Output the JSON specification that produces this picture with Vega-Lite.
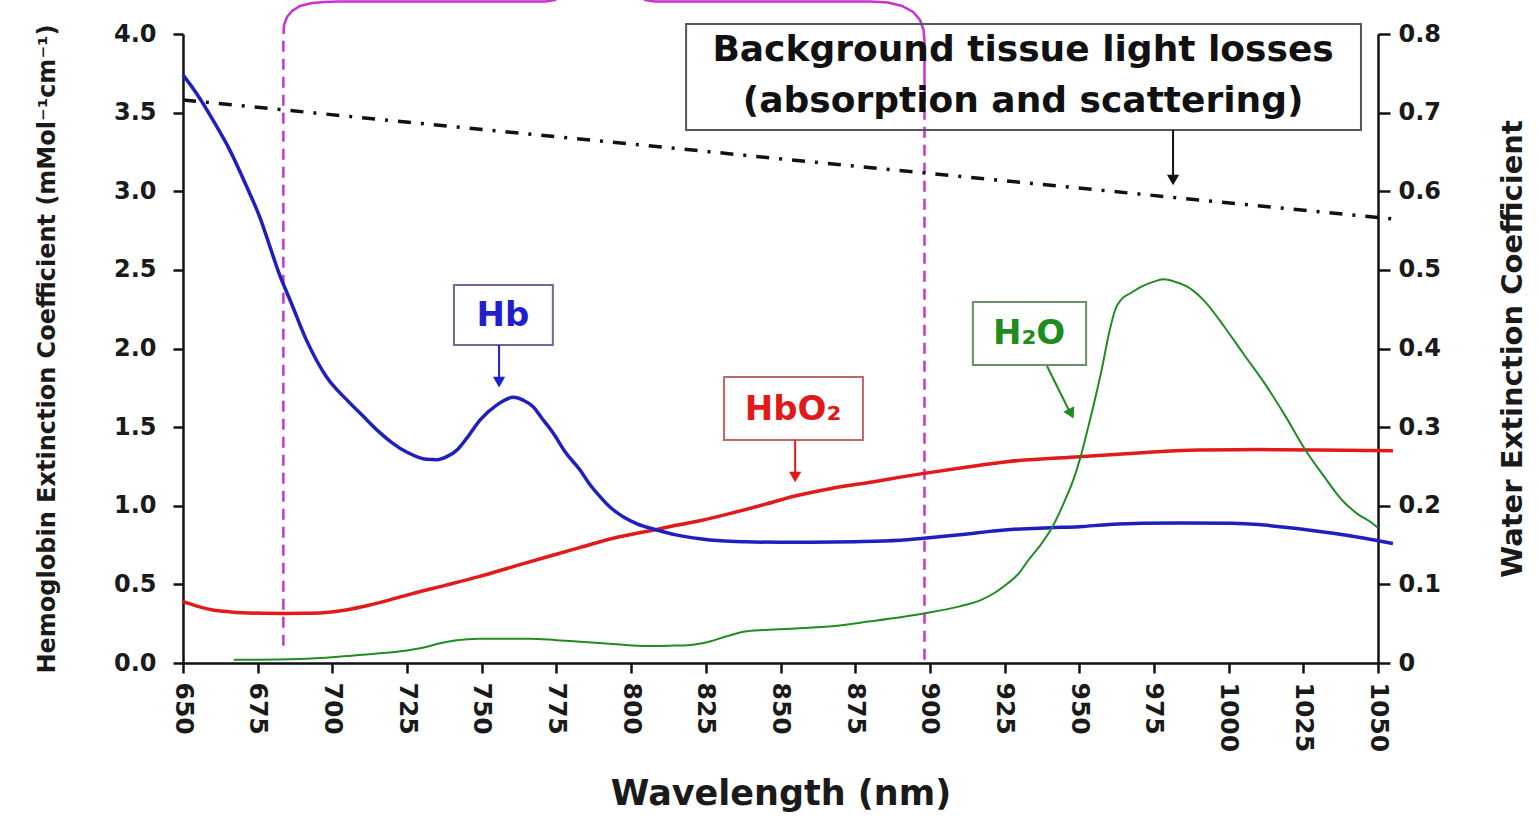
{
  "$schema": "https://vega.github.io/schema/vega-lite/v6.json",
  "width": 1195,
  "height": 629,
  "autosize": {"type": "none"},
  "padding": {"left": 183, "top": 34, "right": 161, "bottom": 164},
  "background": "white",
  "config": {"view": {"stroke": null}, "font": "DejaVu Sans"},
  "datasets": {
    "hb": [
      {"nm":650,"v":3.74},{"nm":654.6,"v":3.62},{"nm":660.1,"v":3.45},{"nm":665.7,"v":3.26},{"nm":671.3,"v":3.03},{"nm":675.8,"v":2.83},{"nm":678,"v":2.71},{"nm":682.5,"v":2.46},{"nm":685.8,"v":2.31},{"nm":691.4,"v":2.05},{"nm":698,"v":1.82},{"nm":705,"v":1.67},{"nm":710,"v":1.575},{"nm":715.9,"v":1.465},{"nm":720,"v":1.4},{"nm":725,"v":1.34},{"nm":731.6,"v":1.295},{"nm":735,"v":1.293},{"nm":738.3,"v":1.312},{"nm":742,"v":1.36},{"nm":745,"v":1.43},{"nm":749.4,"v":1.545},{"nm":755,"v":1.64},{"nm":760.6,"v":1.69},{"nm":764,"v":1.67},{"nm":767.2,"v":1.63},{"nm":770,"v":1.56},{"nm":773.9,"v":1.463},{"nm":778,"v":1.34},{"nm":782.9,"v":1.227},{"nm":786,"v":1.14},{"nm":789.6,"v":1.058},{"nm":793,"v":0.99},{"nm":797.3,"v":0.93},{"nm":802,"v":0.885},{"nm":808.6,"v":0.846},{"nm":815,"v":0.815},{"nm":823,"v":0.79},{"nm":830,"v":0.777},{"nm":838,"v":0.771},{"nm":850,"v":0.768},{"nm":860,"v":0.768},{"nm":875,"v":0.771},{"nm":890,"v":0.78},{"nm":898,"v":0.793},{"nm":910,"v":0.815},{"nm":925,"v":0.846},{"nm":940,"v":0.86},{"nm":950,"v":0.867},{"nm":960,"v":0.88},{"nm":971,"v":0.888},{"nm":985,"v":0.89},{"nm":1001,"v":0.888},{"nm":1010,"v":0.88},{"nm":1017,"v":0.867},{"nm":1026,"v":0.848},{"nm":1035,"v":0.825},{"nm":1045,"v":0.795},{"nm":1055,"v":0.76}
    ],
    "hbo2": [
      {"nm":650,"v":0.39},{"nm":655,"v":0.36},{"nm":660,"v":0.337},{"nm":666,"v":0.325},{"nm":677,"v":0.316},{"nm":684,"v":0.315},{"nm":690,"v":0.316},{"nm":697,"v":0.32},{"nm":704,"v":0.335},{"nm":710,"v":0.358},{"nm":718,"v":0.395},{"nm":727,"v":0.443},{"nm":738,"v":0.495},{"nm":749,"v":0.549},{"nm":760,"v":0.61},{"nm":772,"v":0.676},{"nm":783,"v":0.735},{"nm":794,"v":0.793},{"nm":808.6,"v":0.85},{"nm":815,"v":0.876},{"nm":823,"v":0.905},{"nm":835,"v":0.96},{"nm":845,"v":1.01},{"nm":854.5,"v":1.06},{"nm":867,"v":1.11},{"nm":880,"v":1.15},{"nm":898,"v":1.206},{"nm":912,"v":1.245},{"nm":925.7,"v":1.28},{"nm":950,"v":1.312},{"nm":971,"v":1.337},{"nm":990,"v":1.355},{"nm":1010,"v":1.357},{"nm":1030,"v":1.355},{"nm":1055,"v":1.35}
    ],
    "h2o": [
      {"nm":667,"w":0.004},{"nm":675,"w":0.004},{"nm":689,"w":0.005},{"nm":705,"w":0.009},{"nm":715,"w":0.012},{"nm":725,"w":0.016},{"nm":731,"w":0.02},{"nm":736,"w":0.025},{"nm":741.6,"w":0.029},{"nm":749,"w":0.031},{"nm":758,"w":0.031},{"nm":766,"w":0.031},{"nm":775,"w":0.029},{"nm":783,"w":0.027},{"nm":795,"w":0.024},{"nm":805,"w":0.0216},{"nm":813,"w":0.022},{"nm":820,"w":0.023},{"nm":826,"w":0.027},{"nm":832,"w":0.034},{"nm":838,"w":0.04},{"nm":845,"w":0.042},{"nm":855,"w":0.044},{"nm":865,"w":0.046},{"nm":880,"w":0.053},{"nm":898,"w":0.063},{"nm":910,"w":0.072},{"nm":917,"w":0.08},{"nm":922,"w":0.09},{"nm":926,"w":0.101},{"nm":930,"w":0.115},{"nm":933,"w":0.131},{"nm":937,"w":0.15},{"nm":941,"w":0.173},{"nm":945,"w":0.205},{"nm":948.4,"w":0.237},{"nm":951,"w":0.27},{"nm":953,"w":0.3},{"nm":957.5,"w":0.373},{"nm":960,"w":0.42},{"nm":962,"w":0.449},{"nm":964,"w":0.462},{"nm":967,"w":0.47},{"nm":971,"w":0.479},{"nm":975,"w":0.485},{"nm":978,"w":0.488},{"nm":982,"w":0.485},{"nm":986,"w":0.479},{"nm":992,"w":0.46},{"nm":998.5,"w":0.428},{"nm":1005,"w":0.393},{"nm":1012,"w":0.356},{"nm":1019,"w":0.314},{"nm":1025.7,"w":0.271},{"nm":1032,"w":0.237},{"nm":1038,"w":0.207},{"nm":1043,"w":0.19},{"nm":1048,"w":0.178},{"nm":1050,"w":0.172}
    ],
    "tissue": [{"nm":650,"v":3.58},{"nm":1057,"v":2.82}],
    "brace": [
      {"part":"a","ord":1,"nm":683.64,"v":4.0},{"part":"a","ord":2,"nm":683.81,"v":4.057},{"part":"a","ord":3,"nm":684.81,"v":4.108},{"part":"a","ord":4,"nm":686.49,"v":4.146},{"part":"a","ord":5,"nm":689.16,"v":4.178},{"part":"a","ord":6,"nm":693.18,"v":4.197},{"part":"a","ord":7,"nm":697.53,"v":4.204},{"part":"a","ord":8,"nm":702.2,"v":4.207},{"part":"a","ord":9,"nm":771.2,"v":4.207},{"part":"a","ord":10,"nm":774.5,"v":4.216},{"part":"a","ord":11,"nm":777.9,"v":4.28},{"part":"a","ord":12,"nm":780.2,"v":4.41},
      {"part":"b","ord":1,"nm":799.0,"v":4.41},{"part":"b","ord":2,"nm":801.3,"v":4.28},{"part":"b","ord":3,"nm":804.7,"v":4.216},{"part":"b","ord":4,"nm":808,"v":4.207},{"part":"b","ord":5,"nm":880,"v":4.207},{"part":"b","ord":6,"nm":886,"v":4.2},{"part":"b","ord":7,"nm":890.7,"v":4.178},{"part":"b","ord":8,"nm":894.4,"v":4.14},{"part":"b","ord":9,"nm":896.7,"v":4.089},{"part":"b","ord":10,"nm":897.9,"v":4.025},{"part":"b","ord":11,"nm":898.2,"v":3.96},{"part":"b","ord":12,"nm":898.2,"v":3.58}
    ],
    "mdash": [{"nm":683.6,"v":0.11,"v2":4.0},{"nm":898.2,"v":0.02,"v2":3.58}],
    "boxes": [
      {"name":"bg","nm":818.4,"nm2":1044.3,"v":4.064,"v2":3.39},
      {"name":"Hb","nm":740.7,"nm2":773.8,"v":2.404,"v2":2.022},
      {"name":"HbO2","nm":831.1,"nm2":877.6,"v":1.819,"v2":1.418},
      {"name":"H2O","nm":914.4,"nm2":952.3,"v":2.296,"v2":1.895}
    ],
    "bigtext": [
      {"name":"bg","nm":931.2,"v":3.898,"txt":"Background tissue light losses"},
      {"name":"bg","nm":931.2,"v":3.574,"txt":"(absorption and scattering)"}
    ],
    "smalltext": [
      {"name":"Hb","nm":757.1,"v":2.207,"txt":"Hb"},
      {"name":"HbO2","nm":854.2,"v":1.609,"txt":"HbO₂"},
      {"name":"H2O","nm":933.2,"v":2.092,"txt":"H₂O"}
    ],
    "arrows": [
      {"name":"Hb","nm":755.8,"nm2":755.8,"v":2.022,"v2":1.79},
      {"name":"HbO2","nm":854.9,"nm2":854.9,"v":1.418,"v2":1.19},
      {"name":"bg","nm":981.4,"nm2":981.4,"v":3.39,"v2":3.08},
      {"name":"H2O","nm":939.2,"nm2":947.0,"v":1.889,"v2":1.59}
    ],
    "heads": [
      {"name":"Hb","nm":755.8,"v":1.786},
      {"name":"HbO2","nm":854.9,"v":1.183},
      {"name":"bg","nm":981.4,"v":3.072}
    ],
    "heads2": [
      {"name":"H2O","nm":947.3,"v":1.585}
    ]
  },
  "encoding": {
    "x": {
      "field": "nm", "type": "quantitative",
      "scale": {"domain": [650, 1050], "nice": false, "zero": false},
      "axis": {
        "values": [650,675,700,725,750,775,800,825,850,875,900,925,950,975,1000,1025,1050],
        "format": "d", "labelAngle": 90, "labelFlush": false, "labelOverlap": false,
        "labelFont": "DejaVu Sans", "labelFontWeight": "bold", "labelFontSize": 25, "labelColor": "#1a1a1a", "labelPadding": 9,
        "tickSize": 10, "tickWidth": 2.5, "tickColor": "#111111",
        "domainColor": "#111111", "domainWidth": 2.5, "grid": false,
        "title": "Wavelength (nm)", "titleFont": "DejaVu Sans", "titleFontWeight": "bold", "titleFontSize": 35, "titleColor": "#1a1a1a", "titlePadding": 25
      }
    }
  },
  "layer": [
    {
      "encoding": {
        "y": {
          "field": "v", "type": "quantitative",
          "scale": {"domain": [0, 4], "nice": false, "zero": false},
          "axis": {
            "values": [0,0.5,1,1.5,2,2.5,3,3.5,4], "format": ".1f",
            "labelFont": "DejaVu Sans", "labelFontWeight": "bold", "labelFontSize": 24, "labelColor": "#1a1a1a", "labelPadding": 17,
            "tickSize": 10, "tickWidth": 2.5, "tickColor": "#111111",
            "domainColor": "#111111", "domainWidth": 2.5, "grid": false,
            "title": "Hemoglobin Extinction Coefficient (mMol⁻¹cm⁻¹)", "titleFont": "DejaVu Sans", "titleFontWeight": "bold", "titleFontSize": 24, "titleColor": "#1a1a1a", "titlePadding": 54
          }
        }
      },
      "layer": [
        {
          "data": {"name": "brace"},
          "mark": {"type": "line", "color": "#cc33cc", "strokeWidth": 2.5, "interpolate": "linear"},
          "encoding": {"order": {"field": "ord", "type": "quantitative"}, "detail": {"field": "part", "type": "nominal"}}
        },
        {
          "data": {"name": "mdash"},
          "mark": {"type": "rule", "color": "#cc33cc", "strokeWidth": 2.5, "strokeDash": [11, 7]},
          "encoding": {"y2": {"field": "v2"}}
        },
        {
          "data": {"name": "tissue"},
          "mark": {"type": "line", "color": "#111111", "strokeWidth": 3.5, "strokeDash": [13, 10, 3, 10]},
          "encoding": {}
        },
        {
          "data": {"name": "hbo2"},
          "mark": {"type": "line", "color": "#e31a1a", "strokeWidth": 3.5, "interpolate": "monotone"},
          "encoding": {}
        },
        {
          "data": {"name": "hb"},
          "mark": {"type": "line", "color": "#1f1fbf", "strokeWidth": 3.5, "interpolate": "monotone"},
          "encoding": {}
        },
        {
          "data": {"name": "boxes"},
          "mark": {"type": "rect", "fill": "white", "fillOpacity": 0, "strokeWidth": 2},
          "encoding": {
            "x2": {"field": "nm2"},
            "y2": {"field": "v2"},
            "stroke": {"field": "name", "type": "nominal", "scale": {"domain": ["bg","Hb","HbO2","H2O"], "range": ["#555555","#6b6b9b","#b86a6a","#6a8f6a"]}, "legend": null}
          }
        },
        {
          "data": {"name": "bigtext"},
          "mark": {"type": "text", "font": "DejaVu Sans", "fontWeight": "bold", "fontSize": 36, "align": "center", "baseline": "middle"},
          "encoding": {
            "text": {"field": "txt"},
            "color": {"field": "name", "type": "nominal", "scale": {"domain": ["bg","Hb","HbO2","H2O"], "range": ["#111111","#1f1fcc","#e01a1a","#1e8c1e"]}, "legend": null}
          }
        },
        {
          "data": {"name": "smalltext"},
          "mark": {"type": "text", "font": "DejaVu Sans", "fontWeight": "bold", "fontSize": 34, "align": "center", "baseline": "middle"},
          "encoding": {
            "text": {"field": "txt"},
            "color": {"field": "name", "type": "nominal", "scale": {"domain": ["bg","Hb","HbO2","H2O"], "range": ["#111111","#1f1fcc","#e01a1a","#1e8c1e"]}, "legend": null}
          }
        },
        {
          "data": {"name": "arrows"},
          "mark": {"type": "rule", "strokeWidth": 2},
          "encoding": {
            "x2": {"field": "nm2"},
            "y2": {"field": "v2"},
            "color": {"field": "name", "type": "nominal", "scale": {"domain": ["bg","Hb","HbO2","H2O"], "range": ["#111111","#1f1fcc","#e01a1a","#1e8c1e"]}, "legend": null}
          }
        },
        {
          "data": {"name": "heads"},
          "mark": {"type": "point", "shape": "triangle-down", "filled": true, "size": 150, "opacity": 1},
          "encoding": {
            "color": {"field": "name", "type": "nominal", "scale": {"domain": ["bg","Hb","HbO2","H2O"], "range": ["#111111","#1f1fcc","#e01a1a","#1e8c1e"]}, "legend": null}
          }
        },
        {
          "data": {"name": "heads2"},
          "mark": {"type": "point", "shape": "triangle-down", "filled": true, "size": 150, "opacity": 1, "angle": -27},
          "encoding": {
            "color": {"field": "name", "type": "nominal", "scale": {"domain": ["bg","Hb","HbO2","H2O"], "range": ["#111111","#1f1fcc","#e01a1a","#1e8c1e"]}, "legend": null}
          }
        }
      ]
    },
    {
      "data": {"name": "h2o"},
      "mark": {"type": "line", "color": "#228b22", "strokeWidth": 2, "interpolate": "monotone"},
      "encoding": {
        "y": {
          "field": "w", "type": "quantitative",
          "scale": {"domain": [0, 0.8], "nice": false, "zero": false},
          "axis": {
            "orient": "right",
            "values": [0,0.1,0.2,0.3,0.4,0.5,0.6,0.7,0.8],
            "labelExpr": "datum.value == 0 ? '0' : format(datum.value, '.1f')",
            "labelFont": "DejaVu Sans", "labelFontWeight": "bold", "labelFontSize": 24, "labelColor": "#1a1a1a", "labelPadding": 8,
            "tickSize": 12, "tickWidth": 2.5, "tickColor": "#111111",
            "domainColor": "#111111", "domainWidth": 2.5, "grid": false,
            "title": "Water Extinction Coefficient", "titleFont": "DejaVu Sans", "titleFontWeight": "bold", "titleFontSize": 29, "titleColor": "#1a1a1a",
            "titleAngle": 270, "titleBaseline": "top", "titlePadding": 58
          }
        }
      }
    }
  ],
  "resolve": {"scale": {"y": "independent"}}
}
